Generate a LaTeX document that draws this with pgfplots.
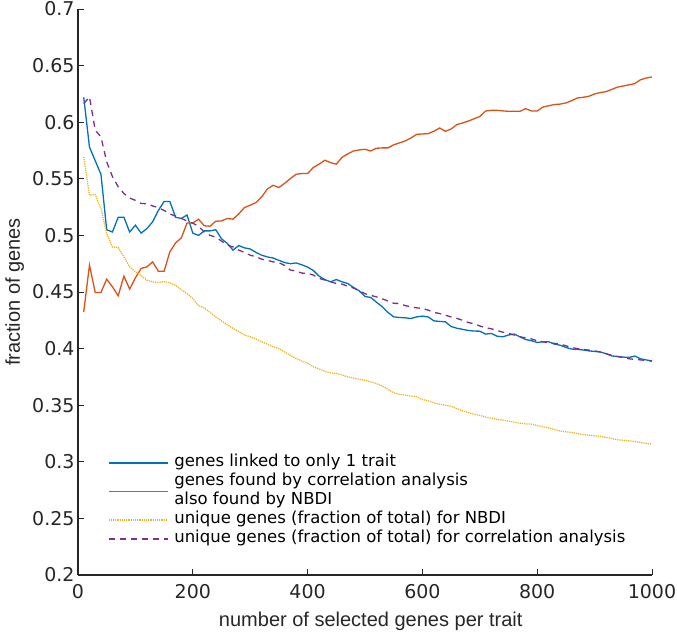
\documentclass[border=0pt]{standalone}
\usepackage{fontspec}
\setmainfont{DejaVu Sans}
\newfontfamily\labfont{Liberation Sans}
\usepackage{pgfplots}
\pgfplotsset{compat=1.18}
\definecolor{mblue}{rgb}{0,0.447,0.741}
\definecolor{morange}{rgb}{0.85,0.325,0.098}
\definecolor{myellow}{rgb}{0.929,0.694,0.125}
\definecolor{mpurple}{rgb}{0.494,0.184,0.556}
\definecolor{axgray}{rgb}{0.15,0.15,0.15}
\pgfplotstableread{
x y
10 0.622
20 0.578
30 0.566
40 0.554
50 0.505
60 0.503
70 0.516
80 0.516
90 0.503
100 0.509
110 0.502
120 0.506
130 0.512
140 0.522
150 0.530
160 0.530
170 0.516
180 0.515
190 0.518
200 0.502
210 0.500
220 0.504
230 0.504
240 0.505
250 0.497
260 0.493
270 0.487
280 0.491
290 0.489
300 0.488
310 0.485
320 0.4825
330 0.481
340 0.480
350 0.478
360 0.476
370 0.475
380 0.4757
390 0.474
400 0.472
410 0.469
420 0.464
430 0.461
440 0.459
450 0.461
460 0.459
470 0.4575
480 0.454
490 0.451
500 0.446
510 0.4452
520 0.441
530 0.437
540 0.432
550 0.428
560 0.4275
570 0.4272
580 0.4266
590 0.428
600 0.4287
610 0.428
620 0.4245
630 0.424
640 0.4237
650 0.4195
660 0.418
670 0.417
680 0.416
690 0.4155
700 0.4154
710 0.4128
720 0.4134
730 0.411
740 0.4104
750 0.412
760 0.4128
770 0.4104
780 0.408
790 0.407
800 0.4054
810 0.406
820 0.406
830 0.404
840 0.403
850 0.401
860 0.3996
870 0.3993
880 0.3988
890 0.398
900 0.3975
910 0.397
920 0.3955
930 0.3935
940 0.393
950 0.3925
960 0.3922
970 0.3934
980 0.391
990 0.390
1000 0.389
}\blue
\pgfplotstableread{
x y
10 0.4325
20 0.4737
30 0.4496
40 0.4496
50 0.4613
60 0.4546
70 0.4466
80 0.4640
90 0.4525
100 0.4625
110 0.4708
120 0.4722
130 0.4766
140 0.4684
150 0.4684
160 0.4855
170 0.4934
180 0.4978
190 0.5110
200 0.5110
210 0.5143
220 0.5085
230 0.5081
240 0.5125
250 0.5128
260 0.5150
270 0.5143
280 0.519
290 0.5246
300 0.5267
310 0.529
320 0.534
330 0.541
340 0.5443
350 0.5423
360 0.546
370 0.5502
380 0.554
390 0.5546
400 0.5546
410 0.560
420 0.5629
430 0.5664
440 0.5643
450 0.5629
460 0.569
470 0.572
480 0.5746
490 0.5755
500 0.5761
510 0.5746
520 0.577
530 0.5773
540 0.5773
550 0.580
560 0.5817
570 0.5835
580 0.586
590 0.5893
600 0.5896
610 0.5899
620 0.592
630 0.5949
640 0.592
650 0.594
660 0.5979
670 0.5993
680 0.601
690 0.603
700 0.605
710 0.6099
720 0.6105
730 0.6105
740 0.610
750 0.6096
760 0.6096
770 0.6096
780 0.612
790 0.6099
800 0.6099
810 0.6134
820 0.6145
830 0.6156
840 0.616
850 0.617
860 0.619
870 0.6214
880 0.622
890 0.6229
900 0.625
910 0.6262
920 0.627
930 0.629
940 0.631
950 0.632
960 0.633
970 0.6341
980 0.6375
990 0.639
1000 0.640
}\orange
\pgfplotstableread{
x y
10 0.5693
20 0.5355
30 0.5361
40 0.5237
50 0.5017
60 0.4898
70 0.4893
80 0.481
90 0.4722
100 0.468
110 0.4645
120 0.4604
130 0.459
140 0.4584
150 0.4593
160 0.458
170 0.456
180 0.452
190 0.4485
200 0.4443
210 0.438
220 0.4358
230 0.432
240 0.428
250 0.4245
260 0.421
270 0.418
280 0.415
290 0.412
300 0.4104
310 0.4085
320 0.406
330 0.404
340 0.4015
350 0.400
360 0.397
370 0.394
380 0.3915
390 0.389
400 0.387
410 0.384
420 0.382
430 0.380
440 0.3786
450 0.378
460 0.3768
470 0.375
480 0.374
490 0.3728
500 0.372
510 0.3707
520 0.369
530 0.367
540 0.364
550 0.361
560 0.3597
570 0.359
580 0.358
590 0.3574
600 0.355
610 0.354
620 0.352
630 0.351
640 0.350
650 0.349
660 0.347
670 0.345
680 0.3435
690 0.342
700 0.341
710 0.3395
720 0.3385
730 0.3375
740 0.3368
750 0.336
760 0.335
770 0.334
780 0.3335
790 0.3333
800 0.332
810 0.331
820 0.330
830 0.3285
840 0.3272
850 0.3265
860 0.326
870 0.325
880 0.324
890 0.3235
900 0.323
910 0.3225
920 0.3215
930 0.3205
940 0.3195
950 0.319
960 0.3186
970 0.318
980 0.317
990 0.3163
1000 0.3157
}\yellow
\pgfplotstableread{
x y
10 0.6164
20 0.6223
30 0.593
40 0.587
50 0.565
60 0.552
70 0.543
80 0.537
90 0.533
100 0.531
110 0.5282
120 0.528
130 0.526
140 0.5245
150 0.522
160 0.519
170 0.517
180 0.515
190 0.5128
200 0.5108
210 0.508
220 0.503
230 0.500
240 0.4985
250 0.495
260 0.4915
270 0.4898
280 0.487
290 0.485
300 0.4825
310 0.4812
320 0.479
330 0.478
340 0.4766
350 0.476
360 0.4734
370 0.4694
380 0.4685
390 0.4667
400 0.4664
410 0.465
420 0.462
430 0.4606
440 0.459
450 0.4576
460 0.457
470 0.455
480 0.4535
490 0.451
500 0.4485
510 0.447
520 0.4457
530 0.444
540 0.442
550 0.440
560 0.4399
570 0.438
580 0.437
590 0.436
600 0.4355
610 0.434
620 0.432
630 0.431
640 0.4295
650 0.428
660 0.4267
670 0.425
680 0.423
690 0.422
700 0.420
710 0.4185
720 0.4175
730 0.416
740 0.4145
750 0.4135
760 0.412
770 0.4104
780 0.4095
790 0.4085
800 0.407
810 0.406
820 0.405
830 0.4046
840 0.404
850 0.4025
860 0.401
870 0.400
880 0.3993
890 0.3987
900 0.398
910 0.397
920 0.3955
930 0.394
940 0.393
950 0.392
960 0.391
970 0.3905
980 0.390
990 0.3895
1000 0.389
}\purple
\begin{document}
\begin{tikzpicture}
\useasboundingbox (-78bp,-57bp) rectangle (599bp,575bp);
\begin{axis}[
  scale only axis, width=574bp, height=566bp,
  xmin=0, xmax=1000, ymin=0.2, ymax=0.7,
  axis lines=left,
  axis line style={-, draw=axgray, line width=1.1bp},
  tick align=inside, major tick length=6bp,
  tick style={draw=axgray, line width=1bp},
  xtick={0,200,400,600,800,1000},
  ytick={0.2,0.25,0.3,0.35,0.4,0.45,0.5,0.55,0.6,0.65,0.7},
  yticklabels={0.2,0.25,0.3,0.35,0.4,0.45,0.5,0.55,0.6,0.65,0.7},
  /pgf/number format/assume math mode=true,
  /pgf/number format/1000 sep={},
  ticklabel style={font=\fontsize{19bp}{22bp}\selectfont, text=axgray},
  xticklabel style={yshift=-6bp},
  xlabel={number of selected genes per trait},
  ylabel={fraction of genes},
  label style={font=\labfont\fontsize{20bp}{24bp}\selectfont, text=axgray, inner sep=0pt},
  xlabel style={at={(axis description cs:0.51,-0.0654)}, anchor=north},
  ylabel style={at={(axis description cs:-0.127,0.5)}, anchor=north},
  legend cell align=left,
  legend image code/.code={\draw[#1] (0bp,0bp) -- (59bp,0bp);},
  legend style={draw=none, fill=none, at={(axis description cs:0.0523,0.2145)}, anchor=north west,
    inner sep=0pt, outer sep=0pt, row sep=0pt,
    font=\fontsize{16.5bp}{19bp}\selectfont, text=black,
    nodes={inner sep=0pt, text depth={}, align=left},
    /tikz/every odd column/.append style={column sep=6bp}},
]
\addplot[mblue, line width=1.3bp] table {\blue};
\addlegendentry{\strut genes linked to only 1 trait}
\addplot[morange, line width=1.3bp] table {\orange};
\addlegendentry{\strut genes found by correlation analysis\\\strut also found by NBDI}
\addplot[myellow, line width=1.3bp, dash pattern=on 1.2bp off 1bp] table {\yellow};
\addlegendentry{\strut unique genes (fraction of total) for NBDI}
\addplot[mpurple, line width=1.3bp, dash pattern=on 6bp off 5bp] table {\purple};
\addlegendentry{\strut unique genes (fraction of total) for correlation analysis}
\end{axis}
\end{tikzpicture}
\end{document}
